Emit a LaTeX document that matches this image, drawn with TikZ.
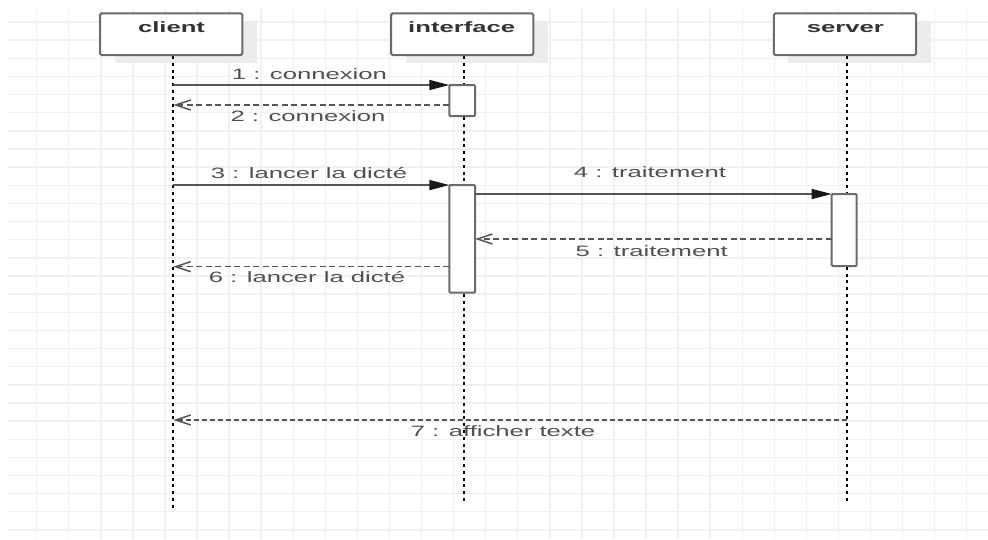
\documentclass[tikz,border=0pt]{standalone}
\usepackage{fontspec}
\setmainfont{Liberation Sans}
\newfontfamily\umlfont[FakeStretch=1.71]{Liberation Sans}
\usetikzlibrary{arrows.meta,calc}

\definecolor{gridc}{HTML}{F0F0F0}
\definecolor{boxline}{HTML}{6A6A6A}
\definecolor{msgline}{HTML}{555555}
\definecolor{labelc}{HTML}{505050}
\definecolor{shadowc}{HTML}{ECECEC}

\begin{document}
\begin{tikzpicture}[x=1pt,y=-1pt,
  gridline/.style={draw=gridc,line width=1.4pt},
  lifebox/.style={draw=boxline,fill=white,line width=2pt,rounded corners=1.5pt,
    minimum width=142.3pt,minimum height=41.7pt,inner sep=0pt,outer sep=0pt},
  boxshadow/.style={fill=shadowc,minimum width=142.3pt,minimum height=41.7pt,
    inner sep=0pt,outer sep=0pt},
  title/.style={font=\umlfont\fontsize{15}{18}\selectfont\bfseries,text=black!80,
    anchor=base,inner sep=0pt},
  lifeline/.style={draw=black,line width=2pt,dash pattern=on 3pt off 3.8pt},
  actbox/.style={draw=boxline,fill=white,line width=2pt,rounded corners=1pt,
    inner sep=0pt,outer sep=0pt},
  call/.style={draw=msgline,line width=1.5pt,
    -{Triangle[length=20pt,width=10pt,color=black!90]}},
  reply/.style={draw=msgline,line width=1.5pt,dash pattern=on 6pt off 3.5pt,
    -{Straight Barb[length=15pt,width=10pt]}},
  msglabel/.style={font=\umlfont\fontsize{15}{18}\selectfont,text=labelc,
    anchor=base,inner sep=0pt}
]
\useasboundingbox (0,0) rectangle (988,539);
\fill[white] (0,0) rectangle (988,539);

% background grid
\foreach \k in {0,...,29}
  \draw[gridline] ({36.7+32.07*\k},9) -- ({36.7+32.07*\k},539);
\foreach \k in {0,...,28}
  \draw[gridline] (8,{22+18.14*\k}) -- (988,{22+18.14*\k});

% participant heads with their shadows
\node[boxshadow] (clientsh) at (185.7,41.7) {};
\node[boxshadow] (interfacesh) at (476.7,41.7) {};
\node[boxshadow] (serversh) at (859.5,41.7) {};
\node[lifebox] (client) at (171.2,34.2) {};
\node[lifebox] (interface) at (462.2,34.2) {};
\node[lifebox] (server) at (845,34.2) {};
\node[title] (clientT) at (171.5,32) {client};
\node[title] (interfaceT) at (461.7,32) {interface};
\node[title] (serverT) at (845.3,32) {server};

% lifelines
\coordinate (clTop) at (173.3,56);
\coordinate (clBot) at (173.3,510);
\coordinate (ilTop) at (463.5,56);
\coordinate (ilBot) at (463.5,501);
\coordinate (slTop) at (846.7,56);
\coordinate (slBot) at (846.7,501);
\draw[lifeline] (clTop) -- (clBot);
\draw[lifeline] (ilTop) -- (ilBot);
\draw[lifeline] (slTop) -- (slBot);

% activation bars
\node[actbox,minimum width=25.7pt,minimum height=31pt] (act1) at (462.2,100.5) {};
\node[actbox,minimum width=25.7pt,minimum height=107.5pt] (act2) at (462.2,238.8) {};
\node[actbox,minimum width=25pt,minimum height=72pt] (sact) at (844.2,230) {};

% message levels
\coordinate (y2) at (0,105);
\coordinate (y5) at (0,239);
\coordinate (y6) at (0,266.7);
\coordinate (y7) at (0,420);

% messages
\draw[call] (clTop |- act1.north west) -- (act1.north west);
\draw[reply] (act1.west |- y2) -- (clTop |- y2);
\draw[call] (clTop |- act2.north west) -- (act2.north west);
\draw[call] (act2.east |- sact.north west) -- (sact.north west);
\draw[reply] (sact.west |- y5) -- (act2.east |- y5);
\draw[reply] (act2.west |- y6) -- (clTop |- y6);
\draw[reply,dash pattern=on 5pt off 3pt] (slTop |- y7) -- (clTop |- y7);

% message labels
\node[msglabel] (l1) at (309.4,79) {1 : connexion};
\node[msglabel] (l2) at (308,121) {2 : connexion};
\node[msglabel] (l3) at (309,178) {3 : lancer la dicté};
\node[msglabel] (l4) at (650,177.5) {4 : traitement};
\node[msglabel] (l5) at (651.7,256) {5 : traitement};
\node[msglabel] (l6) at (307,282) {6 : lancer la dicté};
\node[msglabel] (l7) at (503,436.5) {7 : afficher texte};
\end{tikzpicture}
\end{document}
